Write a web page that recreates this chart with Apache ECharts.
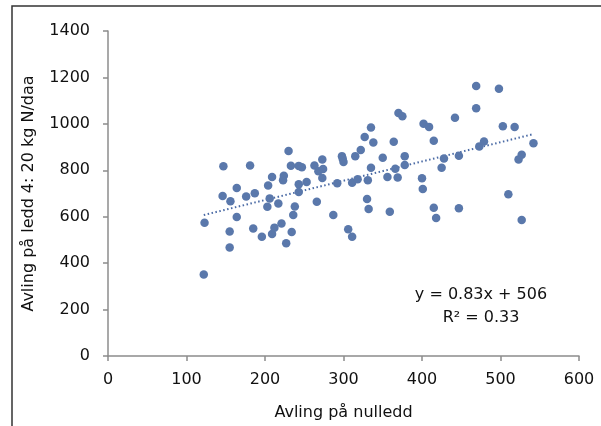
<!DOCTYPE html>
<html>
<head>
<meta charset="utf-8">
<script src="https://cdn.jsdelivr.net/npm/echarts@6/dist/echarts.min.js"></script>
<style>html,body{margin:0;padding:0;background:#fff}#c{width:601px;height:426px}</style>
</head>
<body>
<div id="c"></div>
<script>
var xValues = [122,123,147,146,156,155,155,164,164,176,181,185,187,196,204,203,206,209,209,212,217,221,224,223,227,230,233,234,236,238,243,243,243,247,253,263,266,268,273,273,274,287,292,298,299,300,306,311,311,315,318,322,327,330,331,332,335,335,338,350,356,359,364,366,369,370,375,378,378,400,401,402,409,415,415,418,425,428,442,447,447,469,469,473,479,498,503,510,518,523,527,527,542];
var yValues = [351,574,817,689,667,536,467,599,724,687,821,549,701,514,734,643,679,771,526,553,657,571,776,757,486,883,820,534,607,644,819,740,706,813,750,821,664,796,767,846,806,607,744,861,850,836,546,514,746,861,761,887,943,676,757,633,984,811,920,854,771,621,923,807,769,1047,1033,861,823,766,719,1000,987,639,927,594,811,851,1026,636,863,1163,1067,903,924,1151,990,697,986,847,867,586,916];
var trendSlope = 0.83;
var trendIntercept = 506;
var trendRange = [122, 542];
var xTicks = [0,100,200,300,400,500,600];
var yTicks = [0,200,400,600,800,1000,1200,1400];
var equationLines = ['y = 0.83x + 506', 'R² = 0.33'];
var xName = 'Avling på nulledd';
var yName = 'Avling på ledd 4: 20 kg N/daa';

var pts = xValues.map(function(x,i){return [x, yValues[i]];});
var trend = trendRange.map(function(x){return [x, trendSlope*x + trendIntercept];});
var font = 'DejaVu Sans';
var txt = '#111';
var axisCol = '#8c8c8c';
function plain(v){ return String(v); }

var chart = echarts.init(document.getElementById('c'), null, {renderer:'canvas'});
chart.setOption({
  animation:false,
  backgroundColor:'#fff',
  title:{show:true, text:' ', left:12, top:6, padding:[0,640,460,0], borderColor:'#333333', borderWidth:1.5, backgroundColor:'transparent', z:0},
  grid:{left:108, right:22, top:31, bottom:68},
  xAxis:{
    type:'value', min:xTicks[0], max:xTicks[xTicks.length-1], interval:100,
    name:xName, nameLocation:'middle', nameGap:49,
    nameTextStyle:{fontFamily:font, fontSize:16, color:txt},
    axisLine:{lineStyle:{color:axisCol, width:1.5}},
    axisTick:{show:true, length:5, lineStyle:{color:axisCol, width:1.5}},
    axisLabel:{fontFamily:font, fontSize:16, color:txt, margin:16, formatter:plain},
    splitLine:{show:false}
  },
  yAxis:{
    type:'value', min:yTicks[0], max:yTicks[yTicks.length-1], interval:200,
    name:yName, nameLocation:'middle', nameGap:71, nameRotate:90,
    nameTextStyle:{fontFamily:font, fontSize:16, color:txt},
    axisLine:{show:true, lineStyle:{color:axisCol, width:1.5}},
    axisTick:{show:true, length:5, lineStyle:{color:axisCol, width:1.5}},
    axisLabel:{fontFamily:font, fontSize:16, color:txt, margin:18, formatter:plain},
    splitLine:{show:false}
  },
  series:[
    {type:'scatter', data:pts, symbolSize:8.5, itemStyle:{color:'#5a78ab', opacity:1}, z:3},
    {type:'line', data:trend, symbol:'none', lineStyle:{color:'#4a6aa5', width:2, type:[1.5,2.5]}, z:2}
  ],
  graphic:[
    {type:'text', z:100, x:481, y:295, style:{text:equationLines[0], font:'16px "DejaVu Sans"', fill:txt, textAlign:'center', textVerticalAlign:'middle'}},
    {type:'text', z:100, x:481, y:318, style:{text:equationLines[1], font:'16px "DejaVu Sans"', fill:txt, textAlign:'center', textVerticalAlign:'middle'}}
  ]
});
</script>
</body>
</html>
